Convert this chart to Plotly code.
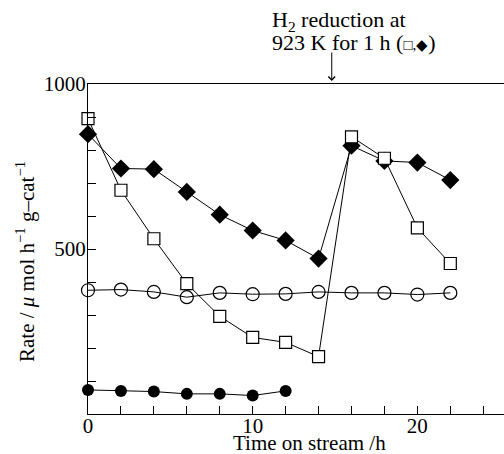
import plotly.graph_objects as go

time_h = [0, 2, 4, 6, 8, 10, 12, 14, 16, 18, 20, 22]
time_closed = [0, 2, 4, 6, 8, 10, 12]

open_square = [895, 678, 531, 395, 296, 232, 217, 174, 840, 775, 564, 456]
filled_diamond = [848, 744, 742, 673, 604, 556, 526, 471, 813, 767, 762, 709]
open_circle = [375, 377, 370, 354, 367, 363, 364, 370, 367, 367, 362, 367]
filled_circle = [73, 70, 68, 61, 61, 56, 70]

x_tickvals = [0, 2, 4, 6, 8, 10, 12, 14, 16, 18, 20, 22, 24]
x_ticktext = ["0", "", "", "", "", "10", "", "", "", "", "20", "", ""]
y_tickvals = [0, 100, 200, 300, 400, 500, 600, 700, 800, 900, 1000]
y_ticktext = ["", "", "", "", "", "500", "", "", "", "", "1000"]

FONT = "Liberation Serif, Times New Roman, serif"

fig = go.Figure()
line = dict(color="black", width=1)

fig.add_trace(go.Scatter(x=time_h, y=open_circle, mode="lines+markers", line=line,
                         marker=dict(symbol="circle-open", size=13, color="black", line=dict(width=1.2)),
                         cliponaxis=False))
fig.add_trace(go.Scatter(x=time_closed, y=filled_circle, mode="lines+markers", line=line,
                         marker=dict(symbol="circle", size=12, color="black"),
                         cliponaxis=False))
fig.add_trace(go.Scatter(x=time_h, y=filled_diamond, mode="lines+markers", line=line,
                         marker=dict(symbol="diamond", size=14, color="black"),
                         cliponaxis=False))
fig.add_trace(go.Scatter(x=time_h, y=open_square, mode="lines+markers", line=line,
                         marker=dict(symbol="square", size=12, color="white",
                                     line=dict(color="black", width=1.2)),
                         cliponaxis=False))

fig.update_layout(
    width=504, height=454,
    margin=dict(l=88, r=0, t=84, b=40),
    paper_bgcolor="white", plot_bgcolor="white",
    showlegend=False,
    font=dict(family=FONT, size=21, color="black"),
    xaxis=dict(range=[0, 25.26], tickvals=x_tickvals, ticktext=x_ticktext,
               ticks="inside", ticklen=8, tickcolor="black", tickwidth=1,
               showline=True, linecolor="black", linewidth=1, mirror=True,
               showgrid=False, zeroline=False, ticklabelstandoff=-7,
               tickfont=dict(family=FONT, size=21)),
    yaxis=dict(range=[0, 1000], tickvals=y_tickvals, ticktext=y_ticktext,
               ticks="inside", ticklen=8, tickcolor="black", tickwidth=1,
               showline=True, linecolor="black", linewidth=1,
               showgrid=False, zeroline=False, ticklabelstandoff=-3,
               tickfont=dict(family=FONT, size=21)),
)

fig.add_annotation(text="Time on stream /h", xref="paper", yref="paper",
                   x=(309 - 88) / 416, y=-(443 - 414) / 330,
                   xanchor="center", yanchor="middle", showarrow=False,
                   font=dict(family=FONT, size=21))
fig.add_annotation(text="Rate / <i>μ</i> mol h<sup>−1</sup> g–cat<sup>−1</sup>",
                   xref="paper", yref="paper", textangle=-90,
                   x=(25 - 88) / 416, y=(414 - 262) / 330,
                   xanchor="center", yanchor="middle", showarrow=False,
                   font=dict(family=FONT, size=21))
fig.add_annotation(text="H<sub>2</sub> reduction at",
                   xref="paper", yref="paper",
                   x=(270 - 88) / 416, y=(414 - 21) / 330,
                   xanchor="left", yanchor="middle", align="left", showarrow=False,
                   font=dict(family=FONT, size=22))
fig.add_annotation(text="923 K for 1 h (<span style='font-size:15px'>□,◆</span>)",
                   xref="paper", yref="paper",
                   x=(270 - 88) / 416, y=(414 - 42) / 330,
                   xanchor="left", yanchor="middle", align="left", showarrow=False,
                   font=dict(family=FONT, size=22))
fig.add_annotation(text="", xref="x", yref="paper", x=14.8, y=(414 - 81) / 330,
                   showarrow=True, arrowhead=4, arrowsize=1.3, arrowwidth=1,
                   arrowcolor="black", ax=0, ay=-30)

fig.write_html("out.html")
